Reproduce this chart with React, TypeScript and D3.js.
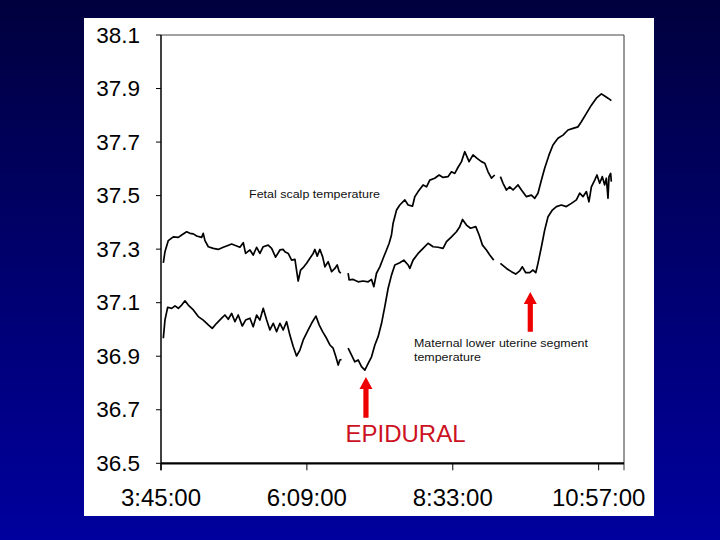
import React from "react";
import * as d3 from "d3";

// Time in minutes since midnight, temperature in °C. null marks a gap in the record.
const fetalTime: (number | null)[] = [
  227.3, 228.9, 232.2, 237.1, 242.1, 245.4, 250.3, 253.6, 256.9, 260.2, 265.1, 266.7, 268.4, 271.7, 276.6,
  281.5, 286.4, 289.8, 294.7, 299.7, 302.9, 306.2, 308.5, 312.8, 316.0, 319.4, 322.6, 325.9, 330.8, 334.2,
  338.1, 342.4, 345.6, 347.3, 350.6, 353.9, 357.2, 360.4, 362.8, 366.0, 368.7, 372.0, 375.2, 376.9, 379.2,
  381.8, 384.5, 386.8, 390.0, 393.4, 396.6, 398.9, 400.9, 402.5, null,
  409.7, 410.7, 414.7, 419.6, 424.5, 429.5, 432.8, 435.1, 437.7, 441.0, 444.3, 447.6, 450.2, 452.5, 454.1,
  457.5, 460.7, 465.7, 468.9, 473.3, 475.5, 478.8, 483.7, 487.1, 490.3, 495.2, 499.5, 503.4, 508.4, 511.7,
  515.0, 518.2, 521.6, 524.8, 529.1, 533.0, 537.0, 541.3, 544.6, 547.8, 551.2, 554.4, null,
  560.0, 562.6, 566.0, 569.2, 572.5, 577.4, 580.8, 585.7, 590.6, 593.9, 597.1, 600.5, 603.7, 608.0, 611.9,
  616.8, 621.8, 626.7, 631.7, 636.6, 639.9, 644.9, 649.8, 654.7, 659.7, 662.9, 666.2, 669.5,
];
const fetalTemp: (number | null)[] = [
  37.249, 37.290, 37.332, 37.346, 37.344, 37.353, 37.365, 37.359, 37.357, 37.349, 37.344, 37.359, 37.332, 37.309, 37.303,
  37.299, 37.307, 37.312, 37.319, 37.312, 37.307, 37.324, 37.284, 37.297, 37.278, 37.307, 37.284, 37.309, 37.315, 37.303,
  37.270, 37.297, 37.299, 37.290, 37.284, 37.259, 37.262, 37.181, 37.222, 37.234, 37.247, 37.266, 37.284, 37.299, 37.274,
  37.299, 37.272, 37.234, 37.253, 37.216, 37.228, 37.241, 37.216, 37.210, null,
  37.210, 37.185, 37.187, 37.178, 37.181, 37.178, 37.187, 37.160, 37.210, 37.234, 37.266, 37.297, 37.322, 37.353, 37.397,
  37.446, 37.465, 37.484, 37.465, 37.461, 37.496, 37.515, 37.540, 37.533, 37.558, 37.565, 37.577, 37.568, 37.571, 37.589,
  37.583, 37.606, 37.627, 37.664, 37.627, 37.652, 37.639, 37.627, 37.621, 37.589, 37.565, 37.577, null,
  37.571, 37.546, 37.521, 37.533, 37.521, 37.540, 37.521, 37.496, 37.502, 37.490, 37.509, 37.558, 37.602, 37.652, 37.689,
  37.714, 37.726, 37.745, 37.751, 37.757, 37.776, 37.807, 37.838, 37.864, 37.880, 37.872, 37.864, 37.855,
];

const maternalTime: (number | null)[] = [
  227.3, 228.9, 231.6, 235.6, 238.8, 242.1, 245.4, 248.7, 251.9, 256.9, 261.8, 266.7, 271.7, 275.6, 279.9,
  284.9, 288.1, 291.4, 294.7, 298.0, 301.2, 305.2, 308.5, 312.8, 316.0, 319.4, 322.6, 325.9, 329.3, 332.5,
  335.8, 339.1, 342.4, 345.6, 349.0, 352.2, 355.5, 358.8, 362.1, 365.4, 370.3, 373.6, 377.9, 381.1, 384.5,
  388.4, 391.7, 394.9, 397.6, 399.9, 401.5, 403.2, null,
  409.7, 413.1, 416.3, 419.6, 422.9, 426.2, 429.5, 432.8, 436.1, 439.3, 442.7, 445.9, 449.2, 452.5, 455.8,
  460.7, 464.7, 468.9, 470.6, 473.8, 478.8, 483.7, 488.6, 493.6, 498.5, 503.4, 506.8, 511.7, 516.6, 519.9,
  522.6, 526.5, 530.5, 535.7, 539.0, 542.3, 546.2, 549.5, 553.4, null,
  560.0, 566.0, 570.9, 575.1, 579.1, 581.7, 585.0, 588.9, 592.2, 594.9, 597.1, 600.5, 603.7, 607.0, 611.3,
  615.3, 620.2, 625.1, 630.1, 635.0, 638.3, 641.5, 644.9, 647.4, 649.8, 653.1, 655.3, 658.0, 660.6, 662.9,
  664.6, 666.2, 667.2, 668.8, 669.5,
];
const maternalTemp: (number | null)[] = [
  36.967, 37.035, 37.083, 37.079, 37.088, 37.079, 37.091, 37.107, 37.091, 37.073, 37.048, 37.035, 37.017, 37.004, 37.023,
  37.042, 37.054, 37.038, 37.060, 37.029, 37.054, 37.013, 37.035, 37.042, 37.010, 37.054, 37.035, 37.079, 37.035, 36.998,
  37.023, 36.992, 37.023, 36.998, 37.029, 36.979, 36.936, 36.901, 36.923, 36.961, 36.998, 37.023, 37.050, 37.017, 36.992,
  36.967, 36.942, 36.930, 36.898, 36.867, 36.886, 36.888, null,
  36.930, 36.904, 36.879, 36.886, 36.861, 36.848, 36.873, 36.898, 36.942, 36.973, 37.023, 37.085, 37.154, 37.203, 37.241,
  37.249, 37.259, 37.241, 37.228, 37.259, 37.284, 37.303, 37.322, 37.309, 37.307, 37.303, 37.328, 37.346, 37.365, 37.384,
  37.411, 37.390, 37.378, 37.384, 37.353, 37.315, 37.297, 37.278, 37.259, null,
  37.247, 37.228, 37.216, 37.207, 37.219, 37.234, 37.212, 37.212, 37.222, 37.212, 37.247, 37.309, 37.371, 37.421, 37.446,
  37.459, 37.465, 37.459, 37.471, 37.484, 37.509, 37.496, 37.515, 37.477, 37.533, 37.558, 37.577, 37.546, 37.571, 37.540,
  37.565, 37.490, 37.571, 37.583, 37.552,
];

const yTicks = [36.5, 36.7, 36.9, 37.1, 37.3, 37.5, 37.7, 37.9, 38.1];
const xTicks = [225, 369, 513, 657]; // 3:45:00, 6:09:00, 8:33:00, 10:57:00
const xDomain = [225, 682];
const yDomain = [36.5, 38.1];

// arrows: time, tip temperature, tail temperature
const arrowTimes = [427.3, 589.5];
const arrowTips = [36.822, 37.14];
const arrowTails = [36.67, 36.991];

const FONT = "Arial, 'Liberation Sans', Helvetica, sans-serif";

function fmtTime(m: number) {
  const h = Math.floor(m / 60);
  const mm = Math.round(m - h * 60);
  return `${h}:${String(mm).padStart(2, "0")}:00`;
}

export default function App() {
  const W = 720, H = 540;
  const L = 161, R = 624, T = 35, B = 463.3;
  const x = d3.scaleLinear().domain(xDomain).range([L, R]);
  const y = d3.scaleLinear().domain(yDomain).range([B, T]);

  const mk = (ts: (number | null)[], vs: (number | null)[]) =>
    ts.map((t, i) => ({ t, v: vs[i] }));
  const line = d3
    .line<{ t: number | null; v: number | null }>()
    .defined((d) => d.t != null && d.v != null)
    .x((d) => x(d.t as number))
    .y((d) => y(d.v as number));

  const fetalPath = line(mk(fetalTime, fetalTemp)) || "";
  const maternalPath = line(mk(maternalTime, maternalTemp)) || "";

  return (
    <svg
      width={W}
      height={H}
      style={{ position: "fixed", left: 0, top: 0, display: "block" }}
      fontFamily={FONT}
    >
      <defs>
        <linearGradient id="bg" x1="0" y1="0" x2="0" y2="1">
          <stop offset="0" stopColor="#00003e" />
          <stop offset="1" stopColor="#00009e" />
        </linearGradient>
      </defs>
      <rect x={0} y={0} width={W} height={H} fill="url(#bg)" />
      <rect x={84} y={18} width={570} height={498} fill="#ffffff" />

      {/* frame */}
      <line x1={L} x2={R} y1={T} y2={T} stroke="#444" strokeWidth={1} />
      <line x1={R} x2={R} y1={T} y2={B + 7} stroke="#333" strokeWidth={1} />
      <line x1={L} x2={L} y1={T} y2={B + 7} stroke="#000" strokeWidth={1.5} />
      <line x1={L} x2={R} y1={B} y2={B} stroke="#000" strokeWidth={2.2} />

      {/* y axis */}
      {yTicks.map((v) => (
        <g key={v}>
          <line x1={L - 5} x2={L} y1={y(v)} y2={y(v)} stroke="#000" strokeWidth={1} />
          <text
            x={140}
            y={y(v)}
            textAnchor="end"
            dominantBaseline="central"
            fontSize={22.5}
            fill="#000"
          >
            {v.toFixed(1)}
          </text>
        </g>
      ))}

      {/* x axis */}
      {xTicks.map((t) => (
        <g key={t}>
          <line x1={x(t)} x2={x(t)} y1={B} y2={B + 7} stroke="#000" strokeWidth={1} />
          <text x={x(t)} y={506} textAnchor="middle" fontSize={24} fill="#000">
            {fmtTime(t)}
          </text>
        </g>
      ))}

      {/* series */}
      <path d={fetalPath} fill="none" stroke="#000" strokeWidth={1.7} strokeLinejoin="round" />
      <path d={maternalPath} fill="none" stroke="#000" strokeWidth={1.7} strokeLinejoin="round" />

      {/* labels */}
      <text x={x(311.9)} y={y(37.491)} fontSize={11.5} fill="#111" textLength={131} lengthAdjust="spacingAndGlyphs">
        Fetal scalp temperature
      </text>
      <text x={x(474.7)} y={y(36.935)} fontSize={11.5} fill="#111" textLength={174} lengthAdjust="spacingAndGlyphs">
        Maternal lower uterine segment
      </text>
      <text x={x(474.7)} y={y(36.882)} fontSize={11.5} fill="#111" textLength={67} lengthAdjust="spacingAndGlyphs">
        temperature
      </text>

      {/* arrows */}
      {arrowTimes.map((t, i) => {
        const cx = x(t);
        const tip = y(arrowTips[i]);
        const tail = y(arrowTails[i]);
        const hh = 12, hw = 6.5, sw = 2.6;
        const d = `M${cx},${tip} L${cx + hw},${tip + hh} L${cx + sw},${tip + hh} L${cx + sw},${tail} L${cx - sw},${tail} L${cx - sw},${tip + hh} L${cx - hw},${tip + hh} Z`;
        return <path key={i} d={d} fill="#ee0000" />;
      })}
      <text x={x(407.1)} y={y(36.578)} fontSize={24} fill="#cc1122">
        EPIDURAL
      </text>
    </svg>
  );
}
